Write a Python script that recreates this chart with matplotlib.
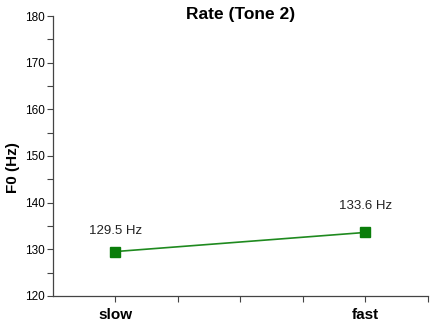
import matplotlib.pyplot as plt

plt.rcParams['font.family'] = ['Liberation Sans', 'DejaVu Sans']

conditions = ['slow', 'fast']
positions = [1, 5]
f0 = [129.5, 133.6]
labels = ['129.5 Hz', '133.6 Hz']
label_offsets = [15, 19]

fig = plt.figure(figsize=(4.3, 3.28), dpi=100)
ax = fig.add_axes([0.123, 0.098, 0.872, 0.853])

ax.plot(positions, f0, color='#1f8a1f', linewidth=1.2, marker='s',
        markersize=7, markerfacecolor='#0a7d0a', markeredgecolor='#0a7d0a')

for x, y, t, off in zip(positions, f0, labels, label_offsets):
    ax.annotate(t, (x, y), xytext=(0, off), textcoords='offset points',
                ha='center', va='center', fontsize=9.5, color='#222222')

ax.set_xlim(0, 6)
ax.set_ylim(120, 180)
ax.set_xticks([1, 2, 3, 4, 5, 6])
ax.set_xticklabels(['slow', '', '', '', 'fast', ''], fontsize=11, fontweight='bold')
ax.set_yticks(range(120, 181, 10))
ax.set_yticks(range(125, 180, 10), minor=True)
ax.tick_params(axis='y', labelsize=8.5, length=4, width=0.8, color='#444444', pad=2)
ax.tick_params(axis='y', which='minor', length=4, width=0.8, color='#444444')
ax.tick_params(axis='x', length=4, width=0.8, color='#444444', pad=5)

for s in ['top', 'right']:
    ax.spines[s].set_visible(False)
for s in ['left', 'bottom']:
    ax.spines[s].set_color('#444444')
    ax.spines[s].set_linewidth(0.9)

ax.set_ylabel('F0 (Hz)', fontsize=11, fontweight='bold')
ax.yaxis.set_label_coords(-0.088, 0.46)
ax.set_title('Rate (Tone 2)', fontsize=12.5, fontweight='bold', y=1.0, pad=-2)

fig.savefig('out.png', dpi=100)
